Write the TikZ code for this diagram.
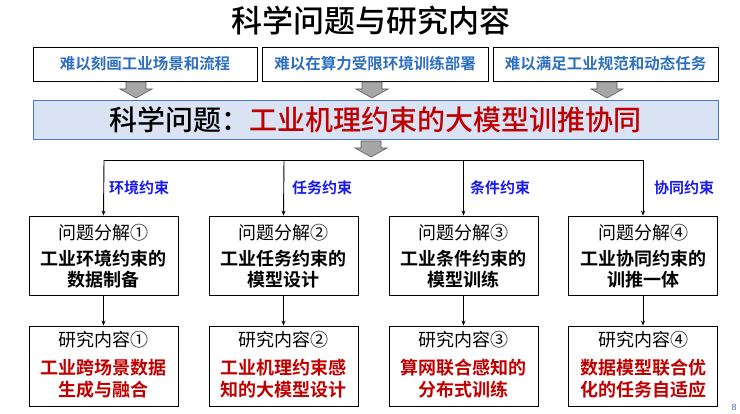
\documentclass[tikz,border=0pt]{standalone}
\usepackage{fontspec}
\setmainfont{Liberation Sans}
\newfontfamily\cjk{Noto Sans CJK SC}
\newfontfamily\cjkm{Noto Sans CJK SC Medium}
\newfontfamily\cjkb{Noto Sans CJK SC Bold}
\usetikzlibrary{arrows.meta}
\definecolor{topblue}{HTML}{2E6FC0}
\definecolor{lblblue}{HTML}{1A1AF0}
\definecolor{myred}{HTML}{C00000}
\definecolor{mainfill}{HTML}{DAE3F3}
\definecolor{mainedge}{HTML}{4A78D0}
\definecolor{arrgray}{HTML}{A6A6A6}
\definecolor{arredge}{HTML}{5A5A5A}
\tikzset{
  topbox/.style={draw=black, line width=0.9pt, minimum width=224pt, minimum height=34pt, inner sep=0pt, font=\cjkb\fontsize{15.5}{17}\selectfont, text=topblue},
  subbox/.style={draw=black, line width=0.9pt, minimum width=149pt, minimum height=79pt, inner sep=0pt},
  headtxt/.style={font=\cjk\fontsize{18}{20}\selectfont, inner sep=0pt},
  boldtxt/.style={font=\cjkb\fontsize{18}{20}\selectfont, inner sep=0pt},
  lbl/.style={font=\cjkb\fontsize{15}{16}\selectfont, text=lblblue, inner sep=0pt, anchor=west},
  conn/.style={line width=0.9pt, -{Stealth[length=5pt,width=4pt]}},
}
\newcommand{\grayarrow}[2]{%
  \fill[arrgray, draw=arredge, line width=0.6pt] (#1-10,#2) -- (#1+10,#2) -- (#1+10,#2+7) -- (#1+16,#2+7) -- (#1,#2+16) -- (#1-16,#2+7) -- (#1-10,#2+7) -- cycle;}
\begin{document}
\begin{tikzpicture}[x=1pt,y=-1pt]
\useasboundingbox (0,0) rectangle (740,414);
% title
\node[font=\cjkm\fontsize{31}{33}\selectfont, inner sep=0pt] (title) at (371,21) {科学问题与研究内容};
% top boxes
\node[topbox] (t1) at (145,64) {难以刻画工业场景和流程};
\node[topbox, minimum width=226pt] (t2) at (375,64) {难以在算力受限环境训练部署};
\node[topbox, minimum width=225pt] (t3) at (605.5,64) {难以满足工业规范和动态任务};
% gray arrows
\grayarrow{136}{82}
\grayarrow{372}{82}
\grayarrow{607}{82}
% main box
\node[draw=mainedge, fill=mainfill, line width=0.9pt, minimum width=685pt, minimum height=39pt, inner sep=0pt,
  font=\cjkm\fontsize{28}{30}\selectfont] (main) at (375.5,119.5) {科学问题：\textcolor{myred}{工业机理约束的大模型训推协同}};
\grayarrow{371}{141}
% tree
\coordinate (h1) at (104,160);
\coordinate (h2) at (284,160);
\coordinate (h3) at (463.5,160);
\coordinate (h4) at (643,160);
\draw[line width=0.9pt] (h1) -- (h4);
% row 1 boxes
\node[subbox] (p1) at (103.5,255.5) {};
\node[subbox] (p2) at (283.5,255.5) {};
\node[subbox] (p3) at (463.5,255.5) {};
\node[subbox] (p4) at (643,255.5) {};
\draw[conn] (h1) -- (p1.north);
\draw[conn] (h2) -- (p2.north);
\draw[conn] (h3) -- (p3.north);
\draw[conn] (h4) -- (p4.north);
\node[lbl] (l1) at (109,188) {环境约束};
\node[lbl] (l2) at (292,188) {任务约束};
\node[lbl] (l3) at (470,188) {条件约束};
\node[lbl] (l4) at (654,188) {协同约束};
% row 1 texts
\node[headtxt] (p1a) at (103.5,233) {问题分解①};
\node[boldtxt] (p1b) at (103.5,259) {工业环境约束的};
\node[boldtxt] (p1c) at (103.5,280) {数据制备};
\node[headtxt] (p2a) at (283.5,233) {问题分解②};
\node[boldtxt] (p2b) at (283.5,259) {工业任务约束的};
\node[boldtxt] (p2c) at (283.5,280) {模型设计};
\node[headtxt] (p3a) at (463.5,233) {问题分解③};
\node[boldtxt] (p3b) at (463.5,259) {工业条件约束的};
\node[boldtxt] (p3c) at (463.5,280) {模型训练};
\node[headtxt] (p4a) at (643,233) {问题分解④};
\node[boldtxt] (p4b) at (643,259) {工业协同约束的};
\node[boldtxt] (p4c) at (643,280) {训推一体};
% row 2 boxes
\node[subbox, minimum height=80pt] (r1) at (103.5,366) {};
\node[subbox, minimum height=80pt] (r2) at (283.5,366) {};
\node[subbox, minimum height=80pt] (r3) at (463.5,366) {};
\node[subbox, minimum height=80pt] (r4) at (643,366) {};
\draw[conn] (p1.south) -- (r1.north);
\draw[conn] (p2.south) -- (r2.north);
\draw[conn] (p3.south) -- (r3.north);
\draw[conn] (p4.south) -- (r4.north);
\node[headtxt] (r1a) at (103.5,340) {研究内容①};
\node[boldtxt, text=myred] (r1b) at (103.5,368) {工业跨场景数据};
\node[boldtxt, text=myred] (r1c) at (103.5,390) {生成与融合};
\node[headtxt] (r2a) at (283.5,340) {研究内容②};
\node[boldtxt, text=myred] (r2b) at (283.5,368) {工业机理约束感};
\node[boldtxt, text=myred] (r2c) at (283.5,390) {知的大模型设计};
\node[headtxt] (r3a) at (463.5,340) {研究内容③};
\node[boldtxt, text=myred] (r3b) at (463.5,368) {算网联合感知的};
\node[boldtxt, text=myred] (r3c) at (463.5,390) {分布式训练};
\node[headtxt] (r4a) at (643,340) {研究内容④};
\node[boldtxt, text=myred] (r4b) at (643,368) {数据模型联合优};
\node[boldtxt, text=myred] (r4c) at (643,390) {化的任务自适应};
% page number
\node[font=\fontsize{9}{10}\selectfont, text=topblue!70!gray, inner sep=0pt] (pg) at (734,407) {8};
\end{tikzpicture}
\end{document}
